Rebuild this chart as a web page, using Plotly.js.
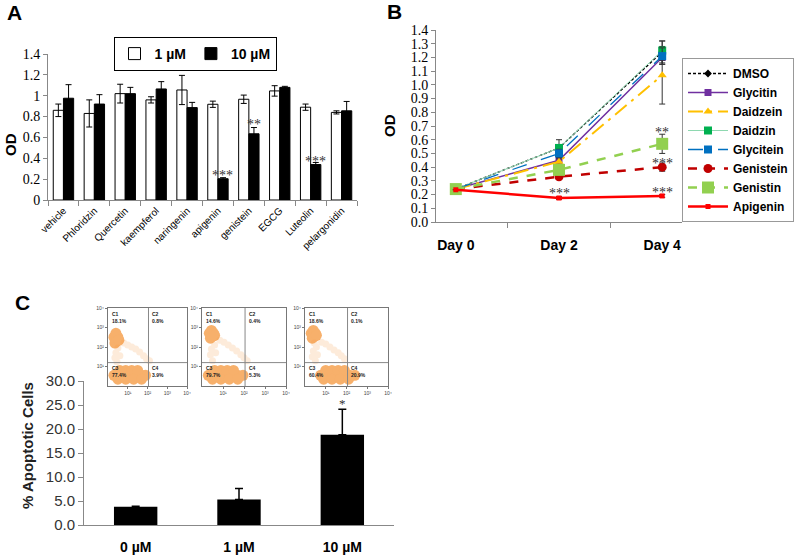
<!DOCTYPE html>
<html>
<head>
<meta charset="utf-8">
<script src="https://cdn.plot.ly/plotly-3.0.1.min.js"></script>
<style>
  body { margin: 0; background: #fff; }
  #chart { width: 800px; height: 557px; }
</style>
</head>
<body>
<div id="chart"></div>
<script>
// ---- Panel A: OD after 1 / 10 uM treatment ----
const compounds = ['vehicle', 'Phloridzin', 'Quercetin', 'kaempferol', 'naringenin',
  'apigenin', 'genistein', 'EGCG', 'Luteolin', 'pelargonidin'];
const od1uM = [0.86, 0.83, 1.02, 0.96, 1.055, 0.918, 0.966, 1.046, 0.89, 0.84];
const od1uMErr = [0.06, 0.13, 0.09, 0.03, 0.14, 0.03, 0.04, 0.05, 0.03, 0.015];
const od10uM = [0.976, 0.92, 1.02, 1.065, 0.886, 0.204, 0.635, 1.08, 0.34, 0.855];
const od10uMErr = [0.13, 0.09, 0.06, 0.07, 0.05, 0.01, 0.06, 0.01, 0.02, 0.09];
const starsA = ['', '', '', '', '', '***', '**', '', '***', ''];
const starsAY = [0, 0, 0, 0, 0, 0.26, 0.75, 0, 0.395, 0];

// ---- Panel B: time course ----
const days = ['Day 0', 'Day 2', 'Day 4'];
const dmso = [0.24, 0.54, 1.24];
const dmsoErr = [0, 0.02, 0.08];
const glycitin = [0.24, 0.45, 1.2];
const glycitinErr = [0, 0.02, 0.05];
const daidzein = [0.24, 0.44, 1.07];
const daidzeinErr = [0, 0.02, 0.21];
const daidzin = [0.24, 0.54, 1.25];
const daidzinErr = [0, 0.06, 0.07];
const glycitein = [0.24, 0.5, 1.21];
const glyciteinErr = [0, 0.03, 0.06];
const genistein = [0.24, 0.33, 0.4];
const genisteinErr = [0, 0.01, 0.03];
const genistin = [0.24, 0.38, 0.57];
const genistinErr = [0, 0.02, 0.07];
const apigenin = [0.235, 0.175, 0.19];
const apigeninErr = [0, 0.01, 0.01];
// significance marks in B
const starsBX = ['Day 2', 'Day 4', 'Day 4', 'Day 4'];
const starsBY = [0.235, 0.245, 0.455, 0.68];
const starsBText = ['***', '***', '***', '**'];

// ---- Panel C: apoptosis ----
const doses = ['0 µM', '1 µM', '10 µM'];
const apoptotic = [3.8, 5.3, 18.8];
const apoptoticErr = [0.1, 2.3, 5.3];

// flow cytometry insets: quadrant percentages C1..C4
const flowPct = [
  ['18.1%', '0.8%', '77.4%', '3.9%'],
  ['14.6%', '0.4%', '79.7%', '5.3%'],
  ['18.6%', '0.1%', '60.4%', '20.9%']
];
// dense populations (log10 units)
const denseX = [
  [0.3, 0.5, 0.4, 0.45, 0.35, 0.55, 0.3, 0.5, 0.7, 0.9, 1.1, 1.3, 1.5, 1.7, 1.9, 0.6, 0.9, 1.2, 1.5, 0.5, 0.9, 1.3, 1.7],
  [0.35, 0.55, 0.45, 0.5, 0.4, 0.6, 0.3, 0.5, 0.7, 0.9, 1.1, 1.3, 1.5, 1.7, 1.95, 0.6, 0.9, 1.2, 1.5, 0.5, 0.9, 1.3, 1.7],
  [0.3, 0.5, 0.4, 0.45, 0.35, 0.55, 0.75, 0.95, 1.15, 1.35, 1.55, 1.75, 1.95, 2.15, 2.4, 1.0, 1.3, 1.6, 1.9, 0.9, 1.3, 1.7, 2.1]
];
const denseY = [
  [2.5, 2.5, 2.7, 2.3, 2.2, 2.35, 0.55, 0.55, 0.55, 0.55, 0.55, 0.55, 0.55, 0.55, 0.55, 0.8, 0.8, 0.8, 0.8, 0.35, 0.35, 0.35, 0.35],
  [2.7, 2.7, 2.85, 2.55, 2.45, 2.6, 0.55, 0.55, 0.55, 0.55, 0.55, 0.55, 0.55, 0.55, 0.55, 0.8, 0.8, 0.8, 0.8, 0.35, 0.35, 0.35, 0.35],
  [2.7, 2.7, 2.85, 2.55, 2.45, 2.6, 0.55, 0.55, 0.55, 0.55, 0.55, 0.55, 0.55, 0.55, 0.55, 0.8, 0.8, 0.8, 0.8, 0.35, 0.35, 0.35, 0.35]
];
const sparseX = [
  [0.4, 0.5, 0.35, 0.8, 1.0, 1.2, 1.4, 1.6, 1.8, 1.95, 2.1, 0.45, 0.6],
  [0.45, 0.6, 0.4, 0.85, 1.05, 1.25, 1.45, 1.65, 1.85, 2.0, 2.15, 0.5, 0.65],
  [0.4, 0.55, 0.35, 0.8, 1.0, 1.2, 1.4, 1.6, 1.75, 1.9, 0.5, 0.6, 0.45]
];
const sparseY = [
  [1.7, 1.95, 1.45, 2.2, 2.1, 2.0, 1.9, 1.75, 1.55, 1.4, 1.3, 1.25, 1.55],
  [1.9, 2.1, 1.6, 2.35, 2.25, 2.1, 1.95, 1.8, 1.6, 1.45, 1.3, 1.3, 1.7],
  [1.8, 2.0, 1.5, 2.25, 2.15, 2.0, 1.85, 1.7, 1.55, 1.4, 1.3, 1.6, 2.2]
];
const gateX = 2.05;
const gateY = 1.2;

const serif = 'Liberation Serif, Times New Roman, serif';
const sans = 'Liberation Sans, Arial, sans-serif';
const orange = '#F5963A';

let data = [
  {
    type: 'bar', x: compounds, y: od1uM, name: '1 µM', legend: 'legend',
    marker: { color: '#fff', line: { color: '#000', width: 1 } },
    error_y: { type: 'data', array: od1uMErr, color: '#000', thickness: 1, width: 3 },
    xaxis: 'x', yaxis: 'y'
  },
  {
    type: 'bar', x: compounds, y: od10uM, name: '10 µM', legend: 'legend',
    marker: { color: '#000', line: { color: '#000', width: 1 } },
    error_y: { type: 'data', array: od10uMErr, color: '#000', thickness: 1, width: 3 },
    xaxis: 'x', yaxis: 'y'
  }
];

// panel B lines
const seriesB = [
  { name: 'DMSO', y: dmso, err: dmsoErr, color: '#000', line: { color: '#000', width: 1.3, dash: '3px,2px' }, symbol: 'diamond', size: 6 },
  { name: 'Glycitin', y: glycitin, err: glycitinErr, color: '#7030A0', line: { color: '#7030A0', width: 1.5 }, symbol: 'square', size: 7 },
  { name: 'Daidzein', y: daidzein, err: daidzeinErr, color: '#FFC000', line: { color: '#FFC000', width: 2, dash: 'longdashdot' }, symbol: 'triangle-up', size: 8 },
  { name: 'Daidzin', y: daidzin, err: daidzinErr, color: '#00B050', line: { color: '#8ED8B0', width: 1 }, symbol: 'square', size: 8 },
  { name: 'Glycitein', y: glycitein, err: glyciteinErr, color: '#0070C0', line: { color: '#0070C0', width: 1.3, dash: 'longdash' }, symbol: 'square', size: 8 },
  { name: 'Genistein', y: genistein, err: genisteinErr, color: '#C00000', line: { color: '#C00000', width: 2.5, dash: 'dash' }, symbol: 'circle', size: 9 },
  { name: 'Genistin', y: genistin, err: genistinErr, color: '#92D050', line: { color: '#92D050', width: 2.5, dash: 'dash' }, symbol: 'square', size: 12 },
  { name: 'Apigenin', y: apigenin, err: apigeninErr, color: '#FF0000', line: { color: '#FF0000', width: 2.5 }, symbol: 'square', size: 5 }
];
seriesB.forEach(s => {
  data.push({
    type: 'scatter', mode: 'lines+markers', x: days, y: s.y, name: s.name, legend: 'legend2',
    line: s.line, marker: { symbol: s.symbol, size: s.size, color: s.color },
    error_y: { type: 'data', array: s.err, color: '#333', thickness: 1, width: 3 },
    xaxis: 'x2', yaxis: 'y2'
  });
});

// panel C bars
data.push({
  type: 'bar', x: doses, y: apoptotic, width: 0.42, showlegend: false,
  marker: { color: '#000' },
  error_y: { type: 'data', array: apoptoticErr, symmetric: false, arrayminus: [0, 0, 0], color: '#000', thickness: 1.5, width: 4 },
  xaxis: 'x3', yaxis: 'y3'
});

// flow insets (trace opacity so overlapping dots merge into one cloud)
for (let i = 0; i < 3; i++) {
  const ax = 4 + i;
  data.push({
    type: 'scatter', mode: 'markers', x: sparseX[i], y: sparseY[i], showlegend: false,
    opacity: 0.18, marker: { color: orange, size: 7 }, hoverinfo: 'skip',
    xaxis: 'x' + ax, yaxis: 'y' + ax
  });
  data.push({
    type: 'scatter', mode: 'markers', x: denseX[i], y: denseY[i], showlegend: false,
    opacity: 0.75, marker: { color: orange, size: 11 }, hoverinfo: 'skip',
    xaxis: 'x' + ax, yaxis: 'y' + ax
  });
}

function px2x(p) { return p / 800; }
function px2y(p) { return 1 - p / 557; }

let layout = {
  width: 800, height: 557,
  margin: { l: 0, r: 0, t: 0, b: 0 },
  paper_bgcolor: '#fff', plot_bgcolor: 'rgba(0,0,0,0)',
  font: { family: sans, color: '#000' },
  barmode: 'group', bargap: 0.34, bargroupgap: 0,
  showlegend: true,
  legend: {
    orientation: 'h', x: px2x(195), y: px2y(37), xanchor: 'center', yanchor: 'top',
    bordercolor: '#000', borderwidth: 1, font: { family: sans, size: 14, weight: 'bold' },
    itemwidth: 30, tracegroupgap: 0
  },
  legend2: {
    x: px2x(682), y: px2y(58), xanchor: 'left', yanchor: 'top',
    bordercolor: '#999', borderwidth: 1, font: { family: sans, size: 12, weight: 'bold' },
    tracegroupgap: 0, itemwidth: 40
  },
  // A
  xaxis: {
    domain: [px2x(48), px2x(357)], showline: true, linecolor: '#888', ticks: 'outside',
    tickson: 'boundaries', ticklen: 5, tickcolor: '#888', tickangle: -45,
    tickfont: { family: sans, size: 10 }, showgrid: false, zeroline: false
  },
  yaxis: {
    domain: [px2y(200), px2y(54)], range: [0, 1.4], dtick: 0.2, showline: true, linecolor: '#888',
    ticks: 'outside', ticklen: 4, tickcolor: '#888', tickfont: { family: serif, size: 14 },
    showgrid: false, zeroline: false
  },
  // B
  xaxis2: {
    domain: [px2x(436), px2x(682)], anchor: 'y2', showline: true, linecolor: '#888', ticks: 'outside',
    tickson: 'boundaries', ticklen: 5, tickcolor: '#888', ticklabelstandoff: 10,
    tickfont: { family: sans, size: 14, weight: 'bold' }, showgrid: false, zeroline: false
  },
  yaxis2: {
    domain: [px2y(222), px2y(30)], anchor: 'x2', range: [0, 1.4], dtick: 0.1, tickformat: '.1f',
    showline: true, linecolor: '#888', ticks: 'outside', ticklen: 4, tickcolor: '#888',
    tickfont: { family: serif, size: 14 }, showgrid: false, zeroline: false
  },
  // C
  xaxis3: {
    domain: [px2x(84), px2x(394)], anchor: 'y3', showline: true, linecolor: '#888', ticks: '',
    ticklabelstandoff: 9,
    tickfont: { family: sans, size: 14, weight: 'bold' }, showgrid: false, zeroline: false
  },
  yaxis3: {
    domain: [px2y(525), px2y(381)], anchor: 'x3', range: [0, 30], dtick: 5, tickformat: '.1f',
    showline: true, linecolor: '#888', ticks: 'outside', ticklen: 5, tickcolor: '#888',
    tickfont: { family: sans, size: 15, color: '#333' }, showgrid: false, zeroline: false
  },
  annotations: [],
  shapes: []
};

// inset axes
const insetLeft = [108, 202, 305];
const insetRight = [187, 286, 388];
for (let i = 0; i < 3; i++) {
  const n = 4 + i;
  layout['xaxis' + n] = {
    domain: [px2x(insetLeft[i]), px2x(insetRight[i])], anchor: 'y' + n, range: [0, 4],
    showline: true, mirror: true, linecolor: '#777', linewidth: 1,
    tickvals: [1, 2, 3, 4], ticktext: ['10¹', '10²', '10³', '10⁴'], ticks: 'outside', ticklen: 2,
    tickcolor: '#777', tickfont: { size: 5, color: '#444' }, showgrid: false, zeroline: false
  };
  layout['yaxis' + n] = {
    domain: [px2y(386), px2y(308)], anchor: 'x' + n, range: [0, 4],
    showline: true, mirror: true, linecolor: '#777', linewidth: 1,
    tickvals: [1, 2, 3, 4], ticktext: ['10¹', '10²', '10³', '10⁴'], ticks: 'outside', ticklen: 2,
    tickcolor: '#777', tickfont: { size: 5, color: '#444' }, showgrid: false, zeroline: false
  };
  layout.shapes.push(
    { type: 'line', xref: 'x' + n, yref: 'y' + n, x0: gateX, x1: gateX, y0: 0, y1: 4, line: { color: '#888', width: 1 } },
    { type: 'line', xref: 'x' + n, yref: 'y' + n, x0: 0, x1: 4, y0: gateY, y1: gateY, line: { color: '#888', width: 1 } }
  );
  const qx = [0.08, gateX + 0.08, 0.08, gateX + 0.08];
  const qy = [3.95, 3.95, gateY - 0.02, gateY - 0.02];
  for (let q = 0; q < 4; q++) {
    layout.annotations.push({
      xref: 'x' + n, yref: 'y' + n, x: qx[q], y: qy[q], xanchor: 'left', yanchor: 'top',
      text: 'C' + (q + 1) + '<br>' + flowPct[i][q], showarrow: false, align: 'left',
      font: { size: 5, color: '#222', weight: 'bold' }
    });
  }
}

// significance stars
compounds.forEach((c, i) => {
  if (!starsA[i]) return;
  layout.annotations.push({
    xref: 'x', yref: 'y', x: c, y: starsAY[i], xshift: 5, yshift: -3, text: starsA[i], showarrow: false,
    font: { family: serif, size: 14, color: '#333' }
  });
});
starsBX.forEach((d, i) => {
  layout.annotations.push({
    xref: 'x2', yref: 'y2', x: d, y: starsBY[i], yshift: -4, text: starsBText[i], showarrow: false,
    font: { family: serif, size: 14, color: '#333' }
  });
});
layout.annotations.push({
  xref: 'x3', yref: 'y3', x: '10 µM', y: 24.2, yanchor: 'bottom', yshift: -4, text: '*', showarrow: false,
  font: { family: serif, size: 13, color: '#333' }
});

// axis titles and panel letters
layout.annotations.push(
  { xref: 'paper', yref: 'paper', x: px2x(11), y: px2y(145), xanchor: 'center', yanchor: 'middle',
    text: 'OD', textangle: -90, showarrow: false, font: { family: sans, size: 15, weight: 'bold' } },
  { xref: 'paper', yref: 'paper', x: px2x(389), y: px2y(126), xanchor: 'center', yanchor: 'middle',
    text: 'OD', textangle: -90, showarrow: false, font: { family: sans, size: 15, weight: 'bold' } },
  { xref: 'paper', yref: 'paper', x: px2x(27), y: px2y(446), xanchor: 'center', yanchor: 'middle',
    text: '% Apoptotic Cells', textangle: -90, showarrow: false,
    font: { family: sans, size: 15, weight: 'bold', color: '#222' } },
  { xref: 'paper', yref: 'paper', x: px2x(14), y: px2y(12), xanchor: 'center', yanchor: 'middle', text: 'A', showarrow: false,
    font: { family: sans, size: 21, weight: 'bold' } },
  { xref: 'paper', yref: 'paper', x: px2x(394), y: px2y(11), xanchor: 'center', yanchor: 'middle', text: 'B', showarrow: false,
    font: { family: sans, size: 21, weight: 'bold' } },
  { xref: 'paper', yref: 'paper', x: px2x(22), y: px2y(302), xanchor: 'center', yanchor: 'middle', text: 'C', showarrow: false,
    font: { family: sans, size: 21, weight: 'bold' } }
);

Plotly.newPlot('chart', data, layout, { staticPlot: true });
</script>
</body>
</html>
